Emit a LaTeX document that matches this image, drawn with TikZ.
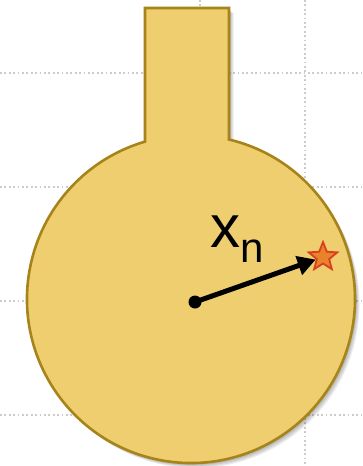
\documentclass[tikz,border=0pt]{standalone}
\usepackage{fontspec}
\setmainfont{Liberation Sans}
\usetikzlibrary{shapes.geometric,arrows.meta}
\definecolor{flaskfill}{HTML}{EFCE6F}
\definecolor{flaskline}{HTML}{A6841A}
\definecolor{starfill}{HTML}{E8822B}
\definecolor{starline}{HTML}{D9401F}
\tikzset{
  gridline/.style={draw=black!20, line width=1.8pt, dash pattern=on 1.8pt off 2.6pt},
  flask/.style={fill=flaskfill, draw=flaskline, line width=2.6pt, line join=miter},
  shade/.style={fill=black, opacity=0.07, draw=none},
  markstar/.style={star, star points=5, star point ratio=2.3, minimum size=30pt, inner sep=0pt, fill=starfill, draw=starline, line width=1.8pt},
  dotnode/.style={circle, fill=black, minimum size=13pt, inner sep=0pt},
  radius arrow/.style={line width=5pt, -{Triangle[length=18pt,width=19pt]}, shorten >=0pt}
}
\begin{document}
\begin{tikzpicture}[x=1pt,y=1pt]
\useasboundingbox (0,0) rectangle (362,-466);
\fill[white] (0,0) rectangle (362,-466);
% grid
\foreach \yy in {73,187,301,415} \draw[gridline] (0,-\yy) -- (362,-\yy);
\foreach \xx in {200,305} \draw[gridline] (\xx,0) -- (\xx,-466);
\coordinate (C) at (191,-299);
% soft shadow
\foreach \s in {1,2,3,4,5} {
  \fill[shade, shift={(\s*0.9,-\s*1.0)}]
    (145,-8) -- (229,-8) -- (229,-139.5) arc[start angle=76.6, end angle=-253.7, radius=164] -- cycle;
}
% flask
\path[flask] (145,-8) -- (229,-8) -- (229,-139.5) arc[start angle=76.6, end angle=-253.7, radius=164] -- cycle;
% vector
\node[dotnode] (o) at (195,-302) {};
\node[markstar] (p) at (323,-257) {};
\draw[radius arrow] (o.center) -- (p);
\node[anchor=base west, inner sep=0pt] (lbl) at (210,-247) {\fontsize{60}{60}\selectfont x\raisebox{-15pt}{\fontsize{42}{42}\selectfont n}};
\end{tikzpicture}
\end{document}
